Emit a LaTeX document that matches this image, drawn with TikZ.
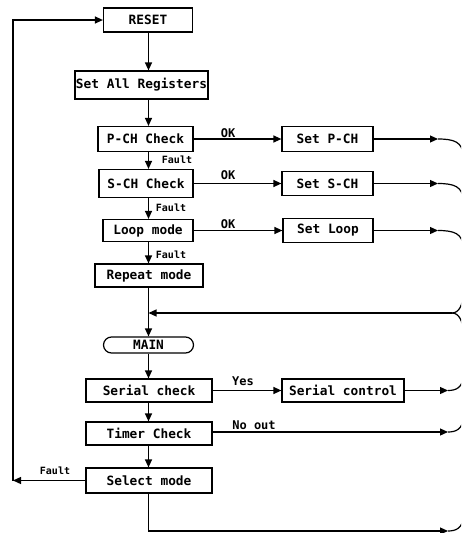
\documentclass[tikz,border=0pt]{standalone}
\usepackage{fontspec}
\setmonofont{DejaVu Sans Mono}
\usetikzlibrary{arrows.meta,shapes.misc}
\begin{document}
\begin{tikzpicture}[x=1pt,y=-1pt,
  box/.style={draw, line width=1.2pt, inner sep=0pt, anchor=center,
    font=\ttfamily\bfseries\fontsize{12.8}{14}\selectfont},
  lbl/.style={inner sep=0pt, font=\ttfamily\bfseries\fontsize{12}{13}\selectfont},
  flt/.style={inner sep=0pt, font=\ttfamily\bfseries\fontsize{10}{11}\selectfont},
  conn/.style={line width=1.2pt},
  arr/.style={conn, -{Triangle[length=8pt,width=7pt]}}]
\useasboundingbox (0,0) rectangle (461,533);
\clip (0,0) rectangle (461,533);
% boxes
\node[box,minimum width=89pt,minimum height=24pt] (reset) at (148,20) {RESET};
\node[box,minimum width=133pt,minimum height=28pt] (setall) at (141.5,85) {Set All Registers};
\node[box,minimum width=95pt,minimum height=25pt] (pch) at (145.5,139) {P-CH Check};
\node[box,minimum width=94pt,minimum height=28pt] (sch) at (146,183.5) {S-CH Check};
\node[box,minimum width=90pt,minimum height=22pt] (loop) at (148,230.5) {Loop mode};
\node[box,minimum width=108pt,minimum height=23pt] (repeat) at (149,275.5) {Repeat mode};
\node[box,minimum width=91pt,minimum height=25pt] (setp) at (327.5,139) {Set P-CH};
\node[box,minimum width=91pt,minimum height=24pt] (sets) at (327.5,183.5) {Set S-CH};
\node[box,minimum width=90pt,minimum height=24pt] (setloop) at (328,230.5) {Set Loop};
\node[box,rounded rectangle,minimum width=90pt,minimum height=16pt] (main) at (148.5,345) {MAIN};
\node[box,minimum width=126pt,minimum height=23pt] (serchk) at (149,390.5) {Serial check};
\node[box,minimum width=122pt,minimum height=23pt] (serctl) at (343,390.5) {Serial control};
\node[box,minimum width=126pt,minimum height=23pt] (timer) at (149,433.5) {Timer Check};
\node[box,minimum width=126pt,minimum height=25pt] (select) at (149,480.5) {Select mode};
% labels
\node[flt] (f1) at (177,160) {Fault};
\node[flt] (f2) at (171,207.5) {Fault};
\node[flt] (f3) at (171,255) {Fault};
\node[flt] (f4) at (55,471) {Fault};
\node[lbl] (ok1) at (228,133.5) {OK};
\node[lbl] (ok2) at (228,175.5) {OK};
\node[lbl] (ok3) at (228,224) {OK};
\node[lbl] (yes) at (243,381.5) {Yes};
\node[lbl] (noout) at (254,425.5) {No out};
% spine
\coordinate (spine) at (148.5,0);
\draw[arr] (reset.south -| spine) -- (setall.north -| spine);
\draw[arr] (setall.south -| spine) -- (pch.north -| spine);
\draw[arr] (pch.south -| spine) -- (sch.north -| spine);
\draw[arr] (sch.south -| spine) -- (loop.north -| spine);
\draw[arr] (loop.south -| spine) -- (repeat.north -| spine);
\coordinate (jn) at (148.5,313);
\draw[conn] (repeat.south -| spine) -- (jn);
\draw[arr] (jn) -- (main.north -| spine);
\draw[arr] (main.south -| spine) -- (serchk.north -| spine);
\draw[arr] (serchk.south -| spine) -- (timer.north -| spine);
\draw[arr] (timer.south -| spine) -- (select.north -| spine);
% OK branches
\draw[arr] (pch.east) -- (setp.west);
\draw[arr] (sch.east) -- (sets.west);
\draw[arr] (loop.east) -- (setloop.west);
\draw[arr] (serchk.east) -- (serctl.west);
% returns to the right bus
\coordinate (e1) at (438,139);
\coordinate (e2) at (438,183.5);
\coordinate (e3) at (438,230.5);
\draw[arr] (setp.east) -- (e1);
\draw[arr] (sets.east) -- (e2);
\draw[arr] (setloop.east) -- (e3);
\draw[conn] (e1) .. controls (454,139) and (463,142) .. (463,156);
\draw[conn] (e2) .. controls (454,183.5) and (463,186.5) .. (463,200.5);
\draw[conn] (e3) .. controls (454,230.5) and (463,233.5) .. (463,247.5);
\coordinate (bt) at (463,156);
\coordinate (bm1) at (463,293);
\draw[conn] (bt) -- (bm1);
\coordinate (jr) at (452,313);
\draw[conn] (bm1) .. controls (463,305) and (459,313) .. (jr);
\coordinate (bm2) at (463,333);
\draw[conn] (bm2) .. controls (463,321) and (459,313) .. (jr);
\draw[arr] (jr) -- (jn);
\coordinate (e4) at (448,390.5);
\coordinate (e5) at (448,432);
\coordinate (bl) at (148.5,531);
\coordinate (e6) at (448,531);
\draw[arr] (serctl.east) -- (e4);
\draw[arr] (timer.east |- e5) -- (e5);
\draw[arr] (select.south -| spine) -- (bl) -- (e6);
\draw[conn] (e4) .. controls (456,390.5) and (463,387.5) .. (463,376);
\draw[conn] (e5) .. controls (456,432) and (463,429) .. (463,417.5);
\draw[conn] (e6) .. controls (456,531) and (463,528) .. (463,516.5);
\coordinate (bb) at (463,516.5);
\draw[conn] (bb) -- (bm2);
% fault loop back to reset
\coordinate (lb) at (13,480.5);
\draw[arr] (select.west) -- (lb);
\draw[arr] (lb) |- (reset.west);
\end{tikzpicture}
\end{document}
